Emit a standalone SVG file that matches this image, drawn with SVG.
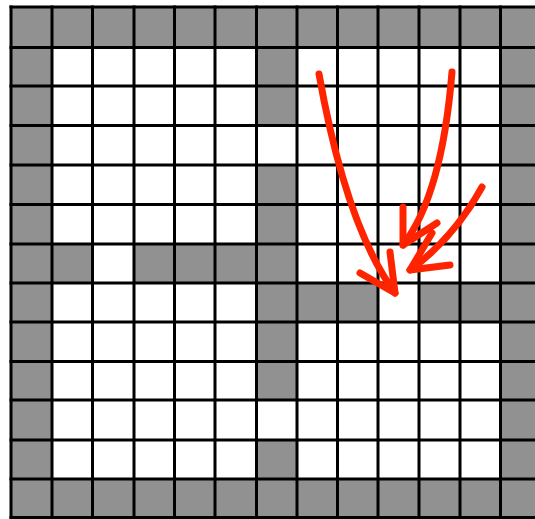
<svg xmlns="http://www.w3.org/2000/svg" width="535" height="519" viewBox="0 0 535 519">
<style>
.g{fill:#919191}
.ln{stroke:#000;stroke-width:3;fill:none}
.ar{stroke:#ff2400;stroke-width:7;fill:none;stroke-linecap:round;stroke-linejoin:round}
</style>
<rect width="535" height="519" fill="#fff"/>
<g id="cells">
<!-- row 0 and row 12 -->
<rect class="g" x="11" y="7" width="530" height="40.5"/>
<rect class="g" x="11" y="479" width="530" height="38.5"/>
<!-- col 0 and col 12 -->
<rect class="g" x="11" y="7" width="41" height="510.5"/>
<rect class="g" x="500.5" y="7" width="40.5" height="510.5"/>
<!-- col 6 -->
<rect class="g" x="256.5" y="47.5" width="40.5" height="78"/>
<rect class="g" x="256.5" y="165" width="40.5" height="235"/>
<rect class="g" x="256.5" y="440" width="40.5" height="39"/>
<!-- row 6 -->
<rect class="g" x="52" y="244" width="40.5" height="39"/>
<rect class="g" x="134" y="244" width="122.5" height="39"/>
<!-- row 7 -->
<rect class="g" x="297" y="283" width="81" height="39"/>
<rect class="g" x="419" y="283" width="81.5" height="39"/>
</g>
<g id="grid">
<path class="ln" d="M11,5.5V519 M52,5.5V519 M92.5,5.5V519 M134,5.5V519 M174.5,5.5V519 M215,5.5V519 M256.5,5.5V519 M297,5.5V519 M337.5,5.5V519 M378,5.5V519 M419,5.5V519 M460,5.5V519 M500.5,5.5V519"/>
<path class="ln" d="M9.5,7H535 M9.5,47.5H535 M9.5,86H535 M9.5,125.5H535 M9.5,165H535 M9.5,204.5H535 M9.5,244H535 M9.5,283H535 M9.5,322H535 M9.5,361.5H535 M9.5,400H535 M9.5,440H535 M9.5,479H535 M9.5,517.5H535"/>
</g>
<g id="connectors">
<g id="arrow1">
<path class="ar" d="M319,74 Q346,226 395,293"/>
<path class="ar" d="M360,273 L395,293 L390,252"/>
</g>
<g id="arrow2">
<path class="ar" d="M452,72 Q442,195 403,245"/>
<path class="ar" d="M403,207 L403,245 L437,223"/>
</g>
<g id="arrow3">
<path class="ar" d="M482,187 Q454,238 410,270"/>
<path class="ar" d="M432,233 L410,270 L450,265"/>
</g>
</g>
</svg>
